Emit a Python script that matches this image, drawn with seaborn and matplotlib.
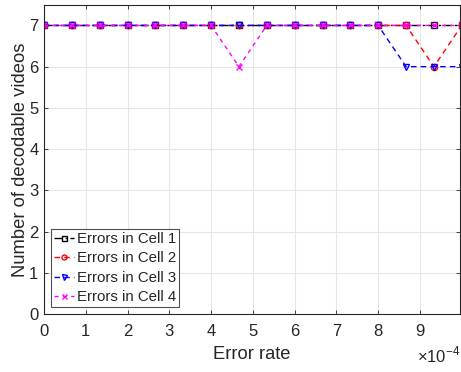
import matplotlib
matplotlib.use("Agg")
import matplotlib.pyplot as plt
import seaborn as sns
import pandas as pd
from matplotlib.ticker import FuncFormatter

# Data (error rate in absolute units)
error_rate = [0.0, 0.667e-4, 1.333e-4, 2.0e-4, 2.667e-4, 3.333e-4, 4.0e-4, 4.667e-4,
              5.333e-4, 6.0e-4, 6.667e-4, 7.333e-4, 8.0e-4, 8.667e-4, 9.333e-4, 10.0e-4]
cell1 = [7, 7, 7, 7, 7, 7, 7, 7, 7, 7, 7, 7, 7, 7, 7, 7]
cell2 = [7, 7, 7, 7, 7, 7, 7, 7, 7, 7, 7, 7, 7, 7, 6, 7]
cell3 = [7, 7, 7, 7, 7, 7, 7, 7, 7, 7, 7, 7, 7, 6, 6, 6]
cell4 = [7, 7, 7, 7, 7, 7, 7, 6, 7, 7, 7, 7, 7, 7, 7, 7]
labels = ["Errors in Cell 1", "Errors in Cell 2", "Errors in Cell 3", "Errors in Cell 4"]
x_ticks = [0, 1, 2, 3, 4, 5, 6, 7, 8, 9]
y_ticks = [0, 1, 2, 3, 4, 5, 6, 7]

sns.set_style("whitegrid")
plt.rcParams['font.family'] = ['Liberation Sans', 'DejaVu Sans']
plt.rcParams['mathtext.fontset'] = 'custom'
plt.rcParams['mathtext.rm'] = 'Liberation Sans'

fig = plt.figure(figsize=(4.61, 3.72), dpi=100)
ax = fig.add_axes([0.0954, 0.156, 0.9026, 0.831])

styles = [
    (cell1, "black", (0, (6, 2, 1.5, 2)), "s"),
    (cell2, "red", (0, (4, 3)), "o"),
    (cell3, "blue", (0, (4, 3)), "v"),
    (cell4, "magenta", (0, (3, 3)), "x"),
]
for (vals, col, ls, mk), lab in zip(styles, labels):
    df = pd.DataFrame({"x": error_rate, "y": vals})
    sns.lineplot(data=df, x="x", y="y", ax=ax, color=col, linestyle=ls, linewidth=1.0,
                 marker=mk, markersize=4.5, markerfacecolor="none",
                 markeredgecolor=col, markeredgewidth=1.0, label=lab)

ax.set_xlim(0, 9.96e-4)
ax.set_ylim(0, 7.5)
ax.set_xticks([t * 1e-4 for t in x_ticks])
ax.set_yticks(y_ticks)
ax.xaxis.set_major_formatter(FuncFormatter(lambda v, p: f"{v * 1e4:.0f}"))
fig.text(0.999, 0.025, r"$\times$10$^{-4}$", ha="right", va="baseline",
         fontsize=12, color="#262626")

ax.set_xlabel("Error rate", fontsize=13.2, color="#262626", labelpad=5)
ax.set_ylabel("Number of decodable videos", fontsize=13.2, color="#262626", labelpad=0)
ax.tick_params(axis="x", pad=7)
ax.tick_params(axis="y", pad=4)
ax.tick_params(axis="both", direction="in", length=3, labelsize=12, colors="#262626",
               top=True, right=True, bottom=True, left=True, width=0.6)
ax.grid(True, color="#e6e6e6", linewidth=0.8)
for s in ax.spines.values():
    s.set_color("#262626")
    s.set_linewidth(0.8)

leg = ax.legend(loc="lower left", fontsize=10.8, frameon=True, fancybox=False,
                edgecolor="#262626", handlelength=1.35, handletextpad=0.2,
                borderpad=0.2, labelspacing=0.36, borderaxespad=0.45, markerscale=0.8)
leg.get_frame().set_linewidth(0.8)

fig.savefig("out.png", dpi=100)
